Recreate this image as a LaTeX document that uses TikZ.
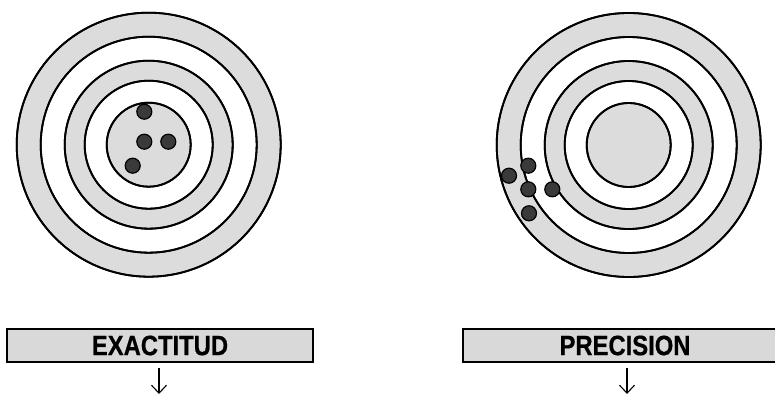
\documentclass[tikz,border=0pt]{standalone}
\usepackage{fontspec}
\setmainfont[FakeStretch=0.85, BoldFeatures={FakeBold=0.6}]{Liberation Sans}
\usetikzlibrary{arrows.meta}
\definecolor{ringgray}{RGB}{220,220,220}
\definecolor{boxgray}{RGB}{217,217,217}
\definecolor{dotgray}{RGB}{58,58,58}
\tikzset{
  ringg/.style={draw=black, line width=1.8pt, fill=ringgray},
  ringw/.style={draw=black, line width=1.8pt, fill=white},
  hit/.style={circle, draw=black, line width=1.2pt, fill=dotgray, minimum size=15pt, inner sep=0pt},
  labelbox/.style={draw=black, line width=2.6pt, fill=boxgray, minimum height=33pt, inner sep=0pt, font=\bfseries\fontsize{28}{28}\selectfont},
  downarrow/.style={line width=1.1pt, -{Straight Barb[length=8pt, width=15pt, line width=1.1pt]}}
}
\begin{document}
\begin{tikzpicture}[x=1pt, y=-1pt]
\useasboundingbox (0,0) rectangle (775,398);
% left target
\coordinate (cl) at (148.7,144.7);
\fill[ringg] (cl) circle (132pt);
\fill[ringw] (cl) circle (108pt);
\fill[ringg] (cl) circle (84pt);
\fill[ringw] (cl) circle (64pt);
\fill[ringg] (cl) circle (42pt);
\foreach \r in {132,108,84,64,42} \draw[line width=1.8pt] (cl) circle (\r pt);
\node[hit] (l1) at (144.3,111.7) {};
\node[hit] (l2) at (144.3,141.7) {};
\node[hit] (l3) at (168.3,141.7) {};
\node[hit] (l4) at (132.7,165.7) {};
% right target
\coordinate (cr) at (628.7,145);
\fill[ringg] (cr) circle (132pt);
\fill[ringw] (cr) circle (108pt);
\fill[ringg] (cr) circle (84pt);
\fill[ringw] (cr) circle (64pt);
\fill[ringg] (cr) circle (42pt);
\foreach \r in {132,108,84,64,42} \draw[line width=1.8pt] (cr) circle (\r pt);
\node[hit] (r1) at (528.3,165.7) {};
\node[hit] (r2) at (509,175.7) {};
\node[hit] (r3) at (528.3,189.3) {};
\node[hit] (r4) at (552.3,189.3) {};
\node[hit] (r5) at (529,213.3) {};
% boxes
\node[labelbox, minimum width=306pt] (exa) at (160,345.5) {EXACTITUD};
\node[labelbox, minimum width=324pt] (pre) at (625,345.5) {PRECISION};
% arrows
\coordinate (exaT) at (159,368);
\coordinate (exaB) at (159,394);
\coordinate (preT) at (627,368);
\coordinate (preB) at (627,394);
\draw[downarrow] (exaT) -- (exaB);
\draw[downarrow] (preT) -- (preB);
\end{tikzpicture}
\end{document}
